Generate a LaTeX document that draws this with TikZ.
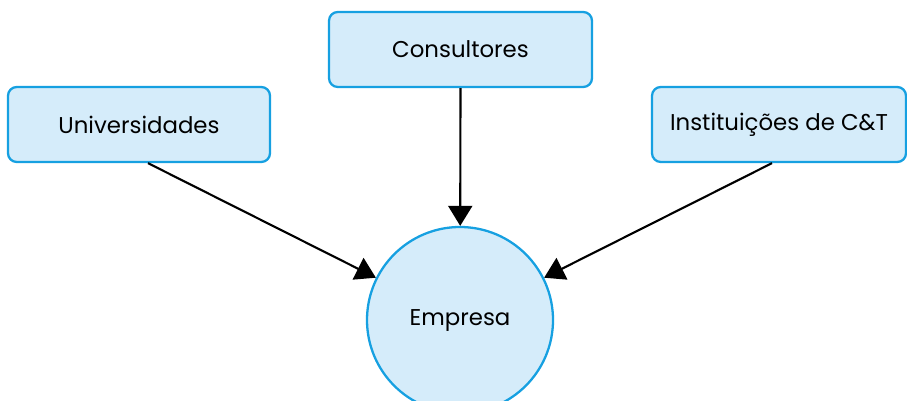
\documentclass[tikz,border=0pt]{standalone}
\usepackage{fontspec}
\setmainfont{Poppins}
\usepackage{tikz}
\usetikzlibrary{arrows.meta}
\definecolor{boxblue}{RGB}{213,236,250}
\definecolor{lineblue}{RGB}{22,160,225}
\tikzset{
    actor/.style={draw=lineblue, fill=boxblue, line width=1.3pt, rounded corners=5pt,
        minimum height=1.5cm, font=\fontsize{13}{15}\selectfont},
    firm/.style={circle, draw=lineblue, fill=boxblue, line width=1.3pt,
        minimum size=3.72cm, inner sep=0pt, font=\fontsize{13}{15}\selectfont},
    link/.style={black, line width=1.2pt, -{Triangle[length=0.4cm,width=0.48cm]}}
}
\begin{document}
\begin{tikzpicture}
        \useasboundingbox (0,0) rectangle (18.14,8);
        \node[firm] (emp) at (9.2,1.6) {Empresa};
        \node[actor, minimum width=5.24cm] (uni) at (2.78,5.51) {Universidades};
        \node[actor, minimum width=5.26cm] (cons) at (9.21,7.01) {Consultores};
        \node[actor, minimum width=5.08cm] (ict) at (15.58,5.51) {Instituições de C\&T};
        \draw[link] ([xshift=0.18cm]uni.south) -- (emp);
        \draw[link] (cons.south) -- (emp);
        \draw[link] ([xshift=-0.14cm]ict.south) -- (emp);
    \end{tikzpicture}
\end{document}
